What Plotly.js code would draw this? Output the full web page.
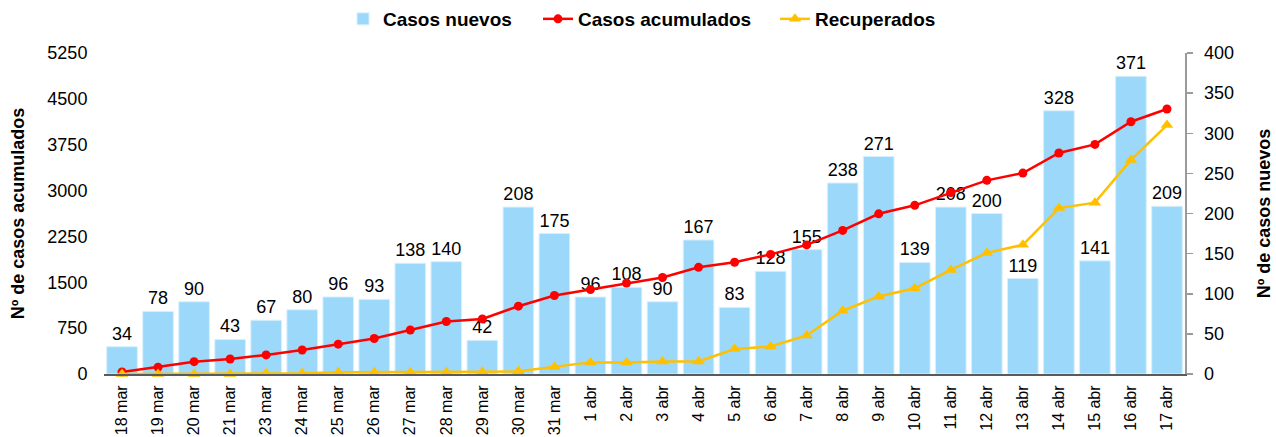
<!DOCTYPE html>
<html>
<head>
<meta charset="utf-8">
<script src="https://cdn.plot.ly/plotly-3.0.1.min.js"></script>
<style>html,body{margin:0;padding:0;background:#fff;}#chart{width:1276px;height:437px;}</style>
</head>
<body>
<div id="chart"></div>
<script>
const categories = ["18 mar","19 mar","20 mar","21 mar","23 mar","24 mar","25 mar","26 mar","27 mar","28 mar","29 mar","30 mar","31 mar","1 abr","2 abr","3 abr","4 abr","5 abr","6 abr","7 abr","8 abr","9 abr","10 abr","11 abr","12 abr","13 abr","14 abr","15 abr","16 abr","17 abr"];
const casosNuevos = [34,78,90,43,67,80,96,93,138,140,42,208,175,96,108,90,167,83,128,155,238,271,139,208,200,119,328,141,371,209];
const casosAcumulados = [34,112,202,245,312,392,488,581,719,859,901,1109,1284,1380,1488,1578,1745,1828,1956,2111,2349,2620,2759,2967,3167,3286,3614,3755,4126,4335];
const recuperados = [0,0,0,0,11,11,27,27,27,27,35,45,115,190,190,206,206,409,451,631,1035,1269,1401,1702,1981,2113,2714,2802,3502,4072];
const leftTicks = [0,750,1500,2250,3000,3750,4500,5250];
const rightTicks = [0,50,100,150,200,250,300,350,400];

const FONT = "Liberation Sans, Arial, sans-serif";

const traces = [
  {
    type: 'bar', name: 'Casos nuevos', x: categories, y: casosNuevos,
    yaxis: 'y', legend: 'legend',
    marker: {color: '#9BD8FA', line: {color: '#D8F0FD', width: 1}},
    text: casosNuevos.map(String), textposition: 'outside',
    textfont: {family: FONT, size: 18, color: '#000'},
    constraintext: 'none', cliponaxis: false,
    hoverinfo: 'x+y'
  },
  {
    type: 'scatter', mode: 'lines+markers', name: 'Casos acumulados',
    x: categories, y: casosAcumulados, yaxis: 'y2', legend: 'legend2',
    line: {color: '#FF0000', width: 2.5},
    marker: {color: '#FF0000', symbol: 'circle', size: 9},
    cliponaxis: false
  },
  {
    type: 'scatter', mode: 'lines+markers', name: 'Recuperados',
    x: categories, y: recuperados, yaxis: 'y2', legend: 'legend3',
    line: {color: '#FFC000', width: 2.5},
    marker: {color: '#FFC000', symbol: 'triangle-up', size: 11},
    cliponaxis: false
  }
];

function leg(xpx) {
  return {
    orientation: 'h', xref: 'container', x: xpx / 1276, xanchor: 'left',
    yref: 'container', y: 1.0, yanchor: 'top',
    font: {family: FONT, size: 19, weight: 'bold', color: '#000'},
    bgcolor: 'rgba(0,0,0,0)'
  };
}

const layout = {
  width: 1276, height: 437,
  margin: {l: 104, r: 91, t: 53, b: 63, autoexpand: false},
  paper_bgcolor: '#fff', plot_bgcolor: '#fff',
  font: {family: FONT, size: 18, color: '#000'},
  showlegend: true,
  bargap: 0.15,
  legend: leg(343),
  legend2: leg(538),
  legend3: leg(775),
  xaxis: {
    type: 'category', tickangle: -90, automargin: false,
    range: [-0.5, categories.length - 0.5], autorange: false,
    tickfont: {family: FONT, size: 16, color: '#000'},
    showline: true, linecolor: '#5a5a5a', linewidth: 2,
    ticks: 'outside', ticklen: 3, tickcolor: 'rgba(0,0,0,0)',
    showgrid: false, zeroline: false, fixedrange: true
  },
  yaxis: {
    side: 'right', range: [0, 400], tickvals: rightTicks, automargin: false,
    showline: true, linecolor: '#9a9a9a', linewidth: 1.5,
    ticks: 'outside', ticklen: 6, tickcolor: '#9a9a9a', tickwidth: 1.5,
    ticklabelstandoff: 8,
    tickfont: {family: FONT, size: 18, color: '#000'},
    showgrid: false, zeroline: false,
    title: {text: 'Nº de casos nuevos', font: {family: FONT, size: 18, weight: 'bold', color: '#000'}, standoff: 24}
  },
  yaxis2: {
    overlaying: 'y', side: 'left', range: [0, 5250], tickvals: leftTicks, automargin: false,
    showline: false, ticks: 'outside', ticklen: 12, tickcolor: 'rgba(0,0,0,0)',
    tickfont: {family: FONT, size: 18, color: '#000'},
    showgrid: false, zeroline: false,
    title: {text: 'Nº de casos acumulados', font: {family: FONT, size: 18, weight: 'bold', color: '#000'}, standoff: 18}
  }
};

Plotly.newPlot('chart', traces, layout, {displayModeBar: false, staticPlot: true});
</script>
</body>
</html>
